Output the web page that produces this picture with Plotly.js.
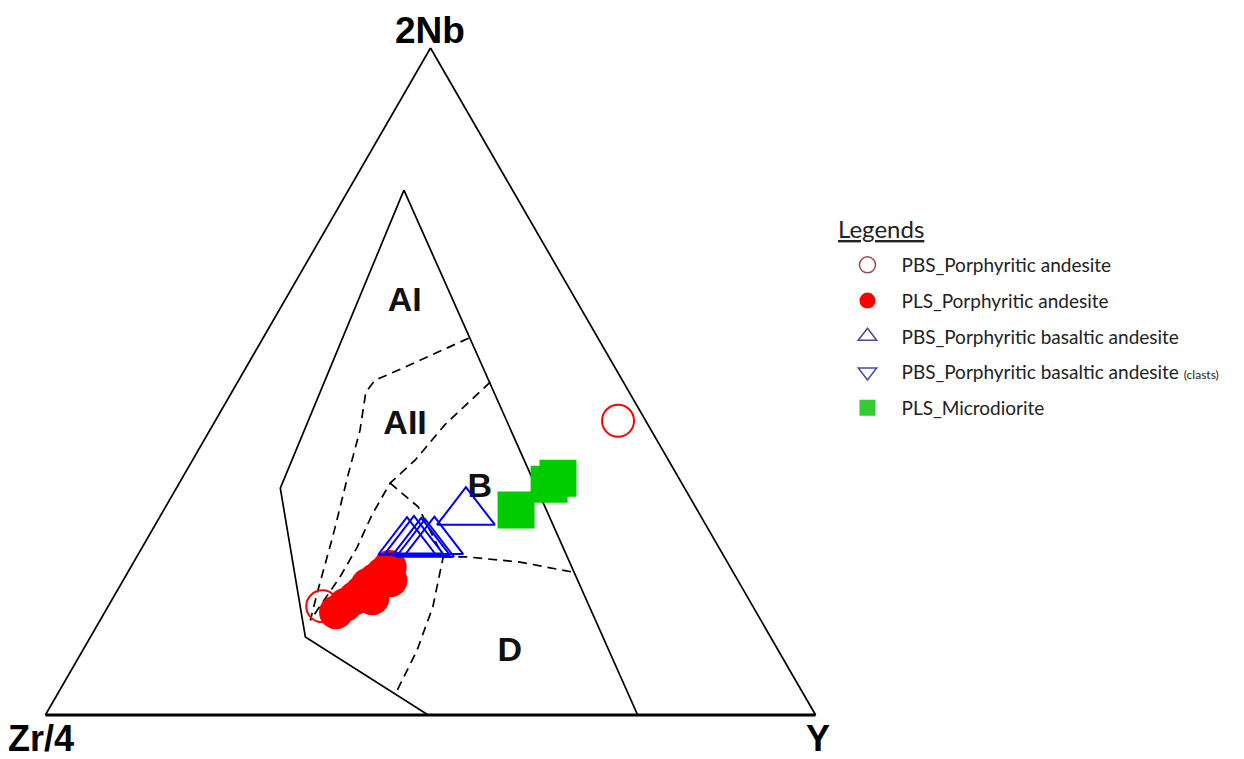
<!DOCTYPE html>
<html><head><meta charset="utf-8">
<script src="https://cdn.plot.ly/plotly-3.0.1.min.js"></script>
<style>html,body{margin:0;padding:0;background:#fff}#chart{width:1244px;height:759px}</style>
</head><body><div id="chart"></div>
<script>
// Ternary coordinates (percent): a = 2Nb, b = Zr/4, c = Y
// --- Samples ---
const pbsAndesite_2Nb = [44.1, 16.3];
const pbsAndesite_Zr4 = [3.6, 55.9];
const pbsAndesite_Y   = [52.3, 27.8];

const plsAndesite_2Nb = [15.4, 16.5, 17.5, 18.4, 19.5, 20.2, 21.1, 22.2, 20.2, 17.5];
const plsAndesite_Zr4 = [54.5, 52.9, 51.0, 49.7, 48.4, 47.1, 45.7, 44.2, 45.1, 48.8];
const plsAndesite_Y   = [30.0, 30.7, 31.4, 31.9, 32.1, 32.7, 33.2, 33.6, 34.7, 33.7];

const pbsBasAnd_2Nb = [30.4, 25.9, 26.1, 25.8, 25.6, 26.0];
const pbsBasAnd_Zr4 = [30.2, 40.1, 39.1, 38.3, 37.9, 36.5];
const pbsBasAnd_Y   = [39.4, 34.0, 34.8, 35.9, 36.5, 37.5];

const pbsBasAndClasts_2Nb = [];
const pbsBasAndClasts_Zr4 = [];
const pbsBasAndClasts_Y   = [];

const plsMicrodiorite_2Nb = [30.7, 34.6, 35.5];
const plsMicrodiorite_Zr4 = [23.5, 17.3, 15.7];
const plsMicrodiorite_Y   = [45.7, 48.1, 48.8];

// --- Field boundaries (Meschede 1986) ---
const outerLeft_2Nb = [78.7, 34.0, 11.7, 0.0];
const outerLeft_Zr4 = [14.1, 52.5, 60.4, 50.3];
const outerLeft_Y   = [7.2, 13.5, 27.9, 49.7];

const outerRight_2Nb = [78.7, 0.0];
const outerRight_Zr4 = [14.1, 23.1];
const outerRight_Y   = [7.2, 76.9];

const dashA_2Nb = [56.5, 52.0, 50.2, 48.4, 42.7, 36.0, 27.0, 18.7, 14.2];
const dashA_Zr4 = [16.8, 27.6, 32.1, 34.2, 37.8, 42.7, 49.2, 55.2, 58.5];
const dashA_Y   = [26.7, 20.4, 17.7, 17.4, 19.5, 21.3, 23.9, 26.0, 27.3];

const dashB_2Nb = [49.9, 43.5, 38.2, 34.8, 30.0, 25.2, 20.7, 14.2];
const dashB_Zr4 = [17.3, 26.4, 32.9, 37.9, 42.6, 46.9, 51.4, 58.5];
const dashB_Y   = [32.8, 30.1, 28.9, 27.4, 27.4, 27.9, 27.9, 27.3];

const dashC_2Nb = [34.8, 31.2, 23.7, 16.2, 9.7, 3.4];
const dashC_Zr4 = [37.9, 36.0, 36.5, 41.6, 46.9, 52.7];
const dashC_Y   = [27.4, 32.8, 39.8, 42.2, 43.4, 43.8];

const dashD_2Nb = [23.7, 23.7, 22.9, 21.4];
const dashD_Zr4 = [36.5, 33.4, 26.9, 20.7];
const dashD_Y   = [39.8, 42.9, 50.1, 57.9];

// --- Field labels ---
const fieldLabels = ['AI', 'AII', 'B', 'D'];
const fieldLabel_2Nb = [61.9, 43.5, 34.0, 9.4];
const fieldLabel_Zr4 = [22.4, 31.6, 26.6, 35.0];
const fieldLabel_Y   = [15.7, 25.0, 39.4, 55.6];

// --- Legend names ---
const legendTitle = 'Legends';
const seriesNames = [
  'PBS_Porphyritic andesite',
  'PLS_Porphyritic andesite',
  'PBS_Porphyritic basaltic andesite',
  'PBS_Porphyritic basaltic andesite <span style="font-size:12px">(clasts)</span>',
  'PLS_Microdiorite'
];

function boundary(a, b, c, dash) {
  return {type: 'scatterternary', mode: 'lines', a: a, b: b, c: c,
    line: {color: 'black', width: 1.7, dash: dash || 'solid'},
    showlegend: false, hoverinfo: 'skip'};
}
// legend-only entry (no plotted point): a single empty slot keeps the trace visible
function legendEntry(name, group, marker, a, b, c) {
  const has = a && a.length;
  return {type: 'scatterternary', mode: 'markers',
    a: has ? a : [null], b: has ? b : [null], c: has ? c : [null],
    name: name, legendgroup: group, marker: marker, hoverinfo: 'skip'};
}

const DASH = '9px,6px';
const traces = [
  boundary(outerLeft_2Nb, outerLeft_Zr4, outerLeft_Y),
  boundary(outerRight_2Nb, outerRight_Zr4, outerRight_Y),
  boundary(dashA_2Nb, dashA_Zr4, dashA_Y, DASH),
  boundary(dashB_2Nb, dashB_Zr4, dashB_Y, DASH),
  boundary(dashC_2Nb, dashC_Zr4, dashC_Y, DASH),
  boundary(dashD_2Nb, dashD_Zr4, dashD_Y, DASH),
  {type: 'scatterternary', mode: 'text', a: fieldLabel_2Nb, b: fieldLabel_Zr4, c: fieldLabel_Y,
    text: fieldLabels, textfont: {family: 'Liberation Sans, Arial', size: 34, color: '#111', weight: 'bold'},
    showlegend: false, hoverinfo: 'skip'},
  {type: 'scatterternary', mode: 'markers', a: pbsAndesite_2Nb, b: pbsAndesite_Zr4, c: pbsAndesite_Y,
    name: seriesNames[0], showlegend: false,
    marker: {symbol: 'circle-open', size: 32, color: '#ff0000', line: {width: 2}}},
  {type: 'scatterternary', mode: 'markers', a: plsAndesite_2Nb, b: plsAndesite_Zr4, c: plsAndesite_Y,
    name: seriesNames[1], showlegend: false,
    marker: {symbol: 'circle', size: 34, color: '#ff0000'}},
  {type: 'scatterternary', mode: 'markers', a: pbsBasAnd_2Nb, b: pbsBasAnd_Zr4, c: pbsBasAnd_Y,
    name: seriesNames[2], showlegend: false,
    marker: {symbol: 'triangle-up-open', size: 50, color: '#0000ff', line: {width: 2}}},
  {type: 'scatterternary', mode: 'markers', a: plsMicrodiorite_2Nb, b: plsMicrodiorite_Zr4, c: plsMicrodiorite_Y,
    name: seriesNames[4], showlegend: false,
    marker: {symbol: 'square', size: 37, color: '#00cc00'}},
  // legend entries
  legendEntry(seriesNames[0], 'g1', {symbol: 'circle-open', size: 16, color: '#9a4a4a', line: {width: 1.5}}),
  legendEntry(seriesNames[1], 'g2', {symbol: 'circle', size: 16, color: '#ff0000'}),
  legendEntry(seriesNames[2], 'g3', {symbol: 'triangle-up-open', size: 16, color: '#4a4a9a', line: {width: 1.5}}),
  legendEntry(seriesNames[3], 'g4', {symbol: 'triangle-down-open', size: 16, color: '#4a4a9a', line: {width: 1.5}},
    pbsBasAndClasts_2Nb, pbsBasAndClasts_Zr4, pbsBasAndClasts_Y),
  legendEntry(seriesNames[4], 'g5', {symbol: 'square', size: 16, color: '#33cc33'})
];

const axisStyle = (w) => ({showticklabels: false, ticks: '', showgrid: false, showline: true,
  linecolor: 'black', linewidth: w, title: {text: ''}});

const layout = {
  width: 1244, height: 759,
  margin: {l: 0, r: 0, t: 0, b: 0},
  paper_bgcolor: 'white',
  ternary: {
    sum: 100,
    bgcolor: 'white',
    domain: {x: [0.03617, 0.65595], y: [0.05797, 0.93676]},
    aaxis: axisStyle(1.7),
    baxis: axisStyle(3),
    caxis: axisStyle(1.7)
  },
  showlegend: true,
  legend: {
    x: 0.670, y: 1 - 246/759, xanchor: 'left', yanchor: 'top',
    bgcolor: 'rgba(0,0,0,0)',
    font: {family: 'Lato, Open Sans, sans-serif', size: 19, color: '#222'},
    itemwidth: 58, tracegroupgap: 8, traceorder: 'grouped'
  },
  annotations: [
    {xref: 'paper', yref: 'paper', x: 836/1244, y: 1 - 228/759, text: '<u>' + legendTitle + '</u>', showarrow: false,
      xanchor: 'left', yanchor: 'middle', font: {family: 'Lato, Open Sans, sans-serif', size: 24, color: '#222'}},
    {xref: 'paper', yref: 'paper', x: 430/1244, y: 1 - 31/759, text: '<b>2Nb</b>', showarrow: false,
      xanchor: 'center', yanchor: 'middle', font: {family: 'Liberation Sans, Arial', size: 37, color: '#000'}},
    {xref: 'paper', yref: 'paper', x: 6/1244, y: 1 - 738/759, text: '<b>Zr/4</b>', showarrow: false,
      xanchor: 'left', yanchor: 'middle', font: {family: 'Liberation Sans, Arial', size: 36, color: '#000'}},
    {xref: 'paper', yref: 'paper', x: 818/1244, y: 1 - 738/759, text: '<b>Y</b>', showarrow: false,
      xanchor: 'center', yanchor: 'middle', font: {family: 'Liberation Sans, Arial', size: 36, color: '#000'}}
  ]
};

Plotly.newPlot('chart', traces, layout, {displayModeBar: false, staticPlot: true});
</script>
</body></html>
